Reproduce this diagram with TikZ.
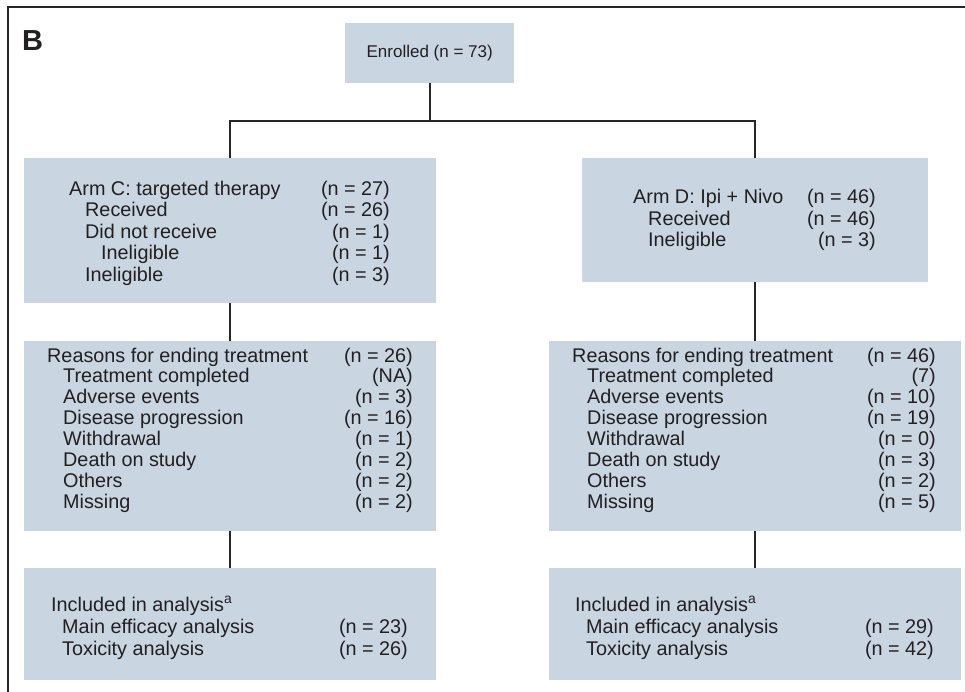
\documentclass[tikz,border=0pt]{standalone}
\usepackage{fontspec}
\setmainfont{Liberation Sans}
\definecolor{boxc}{RGB}{201,214,226}
\definecolor{tc}{RGB}{35,31,32}
\definecolor{lc}{RGB}{38,38,38}
\newcommand\rl[4]{\node[txt,anchor=base west] (#1) at (#2,#3) {#4};}
\newcommand\rr[4]{\node[txt,anchor=base east] (#1) at (#2,#3) {#4};}
\begin{document}
\begin{tikzpicture}[x=1pt,y=-1pt,
  box/.style={fill=boxc,draw=none,anchor=north west,inner sep=0pt},
  txt/.style={inner sep=0pt,text=tc,font=\fontsize{19.8}{21}\selectfont},
  conn/.style={draw=lc,line width=2.2pt},
  frame/.style={draw=lc,line width=1.8pt}]
\useasboundingbox (0,0) rectangle (965,692);
% frame
\coordinate (fb) at (8,692);
\coordinate (fc) at (8,7);
\coordinate (fr) at (965,7);
\draw[frame] (fb) -- (fc) -- (fr);
\node[inner sep=0pt,anchor=base west,text=tc,font=\fontsize{29}{32}\selectfont\bfseries] (lab) at (22,50.5) {B};
% boxes
\node[box,minimum width=169pt,minimum height=60pt] (enr) at (345,23) {};
\node[box,minimum width=412pt,minimum height=145pt] (armC) at (24,158) {};
\node[box,minimum width=346pt,minimum height=124pt] (armD) at (582,158) {};
\node[box,minimum width=412pt,minimum height=190pt] (reaC) at (24,341) {};
\node[box,minimum width=412pt,minimum height=190pt] (reaD) at (549,341) {};
\node[box,minimum width=412pt,minimum height=112pt] (incC) at (24,568) {};
\node[box,minimum width=412pt,minimum height=112pt] (incD) at (549,568) {};
% connectors
\coordinate (jL) at (230,121);
\draw[conn] (enr.south) -- (enr.south |- jL);
\draw[conn] (armC.north) -- (armC.north |- jL) -- (armD.north |- jL) -- (armD.north);
\draw[conn] (armC.south) -- (reaC.north);
\draw[conn] (armD.south) -- (reaD.north);
\draw[conn] (reaC.south) -- (incC.north);
\draw[conn] (reaD.south) -- (incD.north);
% enrolled text
\node[txt,font=\fontsize{17}{21}\selectfont] (enrt) at (enr.center) {Enrolled (n = 73)};
% Arm C
\rl{c1}{69}{195.5}{Arm C: targeted therapy}\rr{c1n}{390}{195.5}{(n = 27)}
\rl{c2}{85}{217}{Received}\rr{c2n}{390}{217}{(n = 26)}
\rl{c3}{85}{238.5}{Did not receive}\rr{c3n}{390}{238.5}{(n = 1)}
\rl{c4}{101}{260}{Ineligible}\rr{c4n}{390}{260}{(n = 1)}
\rl{c5}{85}{281.5}{Ineligible}\rr{c5n}{390}{281.5}{(n = 3)}
% Arm D
\rl{d1}{633}{204}{Arm D: Ipi + Nivo}\rr{d1n}{876}{204}{(n = 46)}
\rl{d2}{648}{225.5}{Received}\rr{d2n}{876}{225.5}{(n = 46)}
\rl{d3}{648}{247}{Ineligible}\rr{d3n}{876}{247}{(n = 3)}
% Reasons C
\rl{rc1}{47}{362}{Reasons for ending treatment}\rr{rc1n}{413}{362}{(n = 26)}
\rl{rc2}{63}{382.9}{Treatment completed}\rr{rc2n}{413}{382.9}{(NA)}
\rl{rc3}{63}{403.8}{Adverse events}\rr{rc3n}{413}{403.8}{(n = 3)}
\rl{rc4}{63}{424.7}{Disease progression}\rr{rc4n}{413}{424.7}{(n = 16)}
\rl{rc5}{63}{445.6}{Withdrawal}\rr{rc5n}{413}{445.6}{(n = 1)}
\rl{rc6}{63}{466.5}{Death on study}\rr{rc6n}{413}{466.5}{(n = 2)}
\rl{rc7}{63}{487.4}{Others}\rr{rc7n}{413}{487.4}{(n = 2)}
\rl{rc8}{63}{508.3}{Missing}\rr{rc8n}{413}{508.3}{(n = 2)}
% Reasons D
\rl{rd1}{572}{362}{Reasons for ending treatment}\rr{rd1n}{936}{362}{(n = 46)}
\rl{rd2}{587}{382.9}{Treatment completed}\rr{rd2n}{936}{382.9}{(7)}
\rl{rd3}{587}{403.8}{Adverse events}\rr{rd3n}{936}{403.8}{(n = 10)}
\rl{rd4}{587}{424.7}{Disease progression}\rr{rd4n}{936}{424.7}{(n = 19)}
\rl{rd5}{587}{445.6}{Withdrawal}\rr{rd5n}{936}{445.6}{(n = 0)}
\rl{rd6}{587}{466.5}{Death on study}\rr{rd6n}{936}{466.5}{(n = 3)}
\rl{rd7}{587}{487.4}{Others}\rr{rd7n}{936}{487.4}{(n = 2)}
\rl{rd8}{587}{508.3}{Missing}\rr{rd8n}{936}{508.3}{(n = 5)}
% Included C
\rl{ic1}{51}{611}{Included in analysis\textsuperscript{a}}
\rl{ic2}{62}{633}{Main efficacy analysis}\rr{ic2n}{408}{633}{(n = 23)}
\rl{ic3}{62}{655}{Toxicity analysis}\rr{ic3n}{408}{655}{(n = 26)}
% Included D
\rl{id1}{575}{611}{Included in analysis\textsuperscript{a}}
\rl{id2}{586}{633}{Main efficacy analysis}\rr{id2n}{934}{633}{(n = 29)}
\rl{id3}{586}{655}{Toxicity analysis}\rr{id3n}{934}{655}{(n = 42)}
\end{tikzpicture}
\end{document}
